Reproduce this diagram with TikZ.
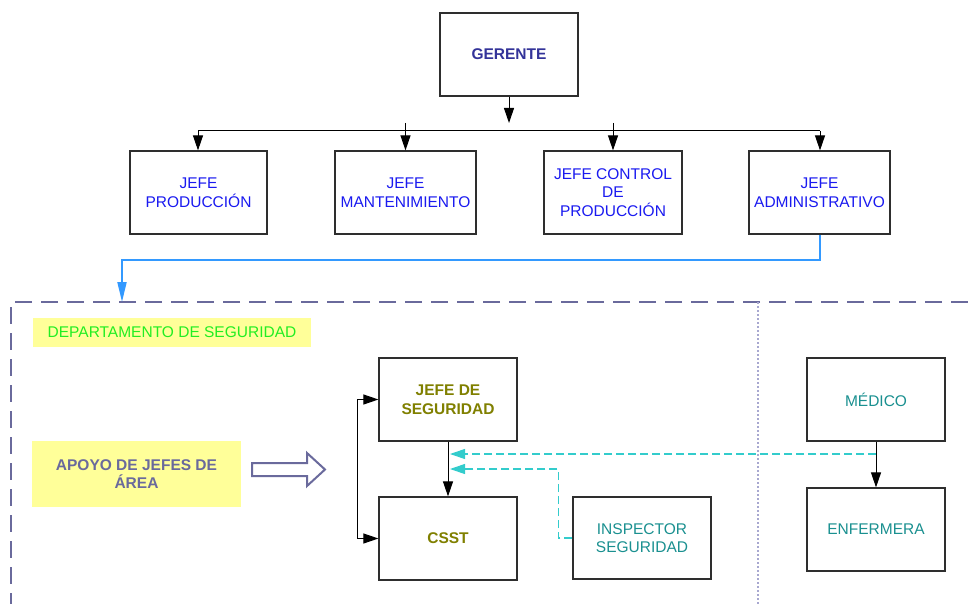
\documentclass[tikz,border=0pt]{standalone}
\usepackage{fontspec}
\setmainfont{Liberation Sans}
\usetikzlibrary{arrows.meta,calc}

\definecolor{boxline}{HTML}{2E2E2E}
\definecolor{gerblue}{HTML}{333399}
\definecolor{jefeblue}{HTML}{1A1AF0}
\definecolor{deptgreen}{HTML}{22EE22}
\definecolor{notefill}{HTML}{FFFF99}
\definecolor{slate}{HTML}{6A6A9C}
\definecolor{olivetxt}{HTML}{808000}
\definecolor{tealtxt}{HTML}{1A9090}
\definecolor{cyanline}{HTML}{33CCCC}
\definecolor{linkblue}{HTML}{3399FF}
\definecolor{lavender}{HTML}{A8A8D0}

\tikzset{
  txt/.style={font=\fontsize{15.5}{18.5}\selectfont, align=center},
  orgbox/.style={txt, draw=boxline, line width=1.2pt, fill=white,
                 minimum width=138pt, minimum height=83pt, inner sep=0pt},
  note/.style={txt, fill=notefill, inner sep=0pt},
  link/.style={draw=black, line width=1pt, -{Triangle[length=15pt,width=10pt]}},
  feedback/.style={draw=cyanline, line width=1.1pt, dash pattern=on 8pt off 4pt,
                   -{Triangle[length=15pt,width=10pt]}},
  framedash/.style={draw=slate, line width=2.6pt, dash pattern=on 17pt off 9pt},
  divider/.style={draw=lavender, line width=1.5pt, dash pattern=on 2pt off 2pt},
}

\begin{document}
\begin{tikzpicture}[x=1pt, y=-1pt]
  \useasboundingbox (0,0) rectangle (968,604);

  % department frame and divider
  \coordinate (frameTR) at (968,302);
  \coordinate (frameTL) at (11,302);
  \coordinate (frameBL) at (11,604);
  \coordinate (divTop) at (758,302);
  \coordinate (divBot) at (758,604);
  \draw[framedash] (frameTR) -- (frameTL) -- (frameBL);
  \draw[divider] (divTop) -- (divBot);

  % top level
  \node[orgbox, text=gerblue, font=\fontsize{15.5}{18.5}\selectfont\bfseries] (ger) at (509,54.5) {GERENTE};
  \node[orgbox, text=jefeblue, minimum width=137pt] (jp) at (198.5,192.5) {JEFE\\PRODUCCIÓN};
  \node[orgbox, text=jefeblue, minimum width=141pt] (jm) at (405.5,192.5) {JEFE\\MANTENIMIENTO};
  \node[orgbox, text=jefeblue] (jc) at (613,192.5) {JEFE CONTROL\\DE\\PRODUCCIÓN};
  \node[orgbox, text=jefeblue, minimum width=141pt] (ja) at (819.5,192.5) {JEFE\\ADMINISTRATIVO};

  % bus from the manager to the four heads
  \coordinate (gerTip) at (509,123);
  \coordinate (busL) at (198,131);
  \coordinate (busR) at (820,131);
  \draw[link] (ger.south) -- (gerTip);
  \draw[line width=1pt] (busL) -- (busR);
  \draw[line width=1pt] (405.5,123) -- (405.5,131);
  \draw[line width=1pt] (613,123) -- (613,131);
  \draw[link] (busL) -- (busL |- jp.north);
  \draw[link] (405.5,131) -- (jm.north);
  \draw[link] (613,131) -- (jc.north);
  \draw[link] (busR) -- (busR |- ja.north);

  % link into the safety department
  \coordinate (deptIn) at (122,302);
  \draw[draw=linkblue, line width=2pt, -{Triangle[length=20pt,width=9pt]}]
    (ja.south) -- ++(0,25) -| (deptIn);

  % department contents
  \node[note, text=deptgreen, minimum width=278pt, minimum height=29pt] (dept) at (172,332.5)
    {DEPARTAMENTO DE SEGURIDAD};
  \node[note, text=slate, font=\fontsize{15.5}{18.5}\selectfont\bfseries,
        minimum width=209pt, minimum height=66pt] (apoyo) at (136.5,474)
    {APOYO DE JEFES DE\\ÁREA};

  % hollow block arrow
  \draw[draw=slate, line width=2pt, fill=white, line join=miter]
    (252,463) -- (307,463) -- (307,453) -- (325,469.5) -- (307,486) -- (307,476) -- (252,476) -- cycle;

  \node[orgbox, text=olivetxt, font=\fontsize{15.5}{18.5}\selectfont\bfseries] (js) at (448,399.5) {JEFE DE\\SEGURIDAD};
  \node[orgbox, text=olivetxt, font=\fontsize{15.5}{18.5}\selectfont\bfseries] (cs) at (448,538.5) {CSST};
  \node[orgbox, text=tealtxt, minimum height=82pt] (insp) at (642,538) {INSPECTOR\\SEGURIDAD};
  \node[orgbox, text=tealtxt] (med) at (876,399.5) {MÉDICO};
  \node[orgbox, text=tealtxt] (enf) at (876,529.5) {ENFERMERA};

  \draw[link] (js) -- (cs);
  \draw[link] (med) -- (enf);
  \draw[line width=1pt, {Triangle[length=15pt,width=10pt]}-{Triangle[length=15pt,width=10pt]}]
    (js.west) -- ++(-21,0) |- (cs.west);

  % dashed feedback lines towards the safety chain
  \coordinate (medTap) at (876,454);
  \coordinate (fbTop) at (450,454);
  \coordinate (fbLow) at (450,469);
  \draw[feedback] (medTap) -- (fbTop);
  \draw[feedback] (insp.west) -- ++(-14,0) |- (fbLow);
\end{tikzpicture}
\end{document}
